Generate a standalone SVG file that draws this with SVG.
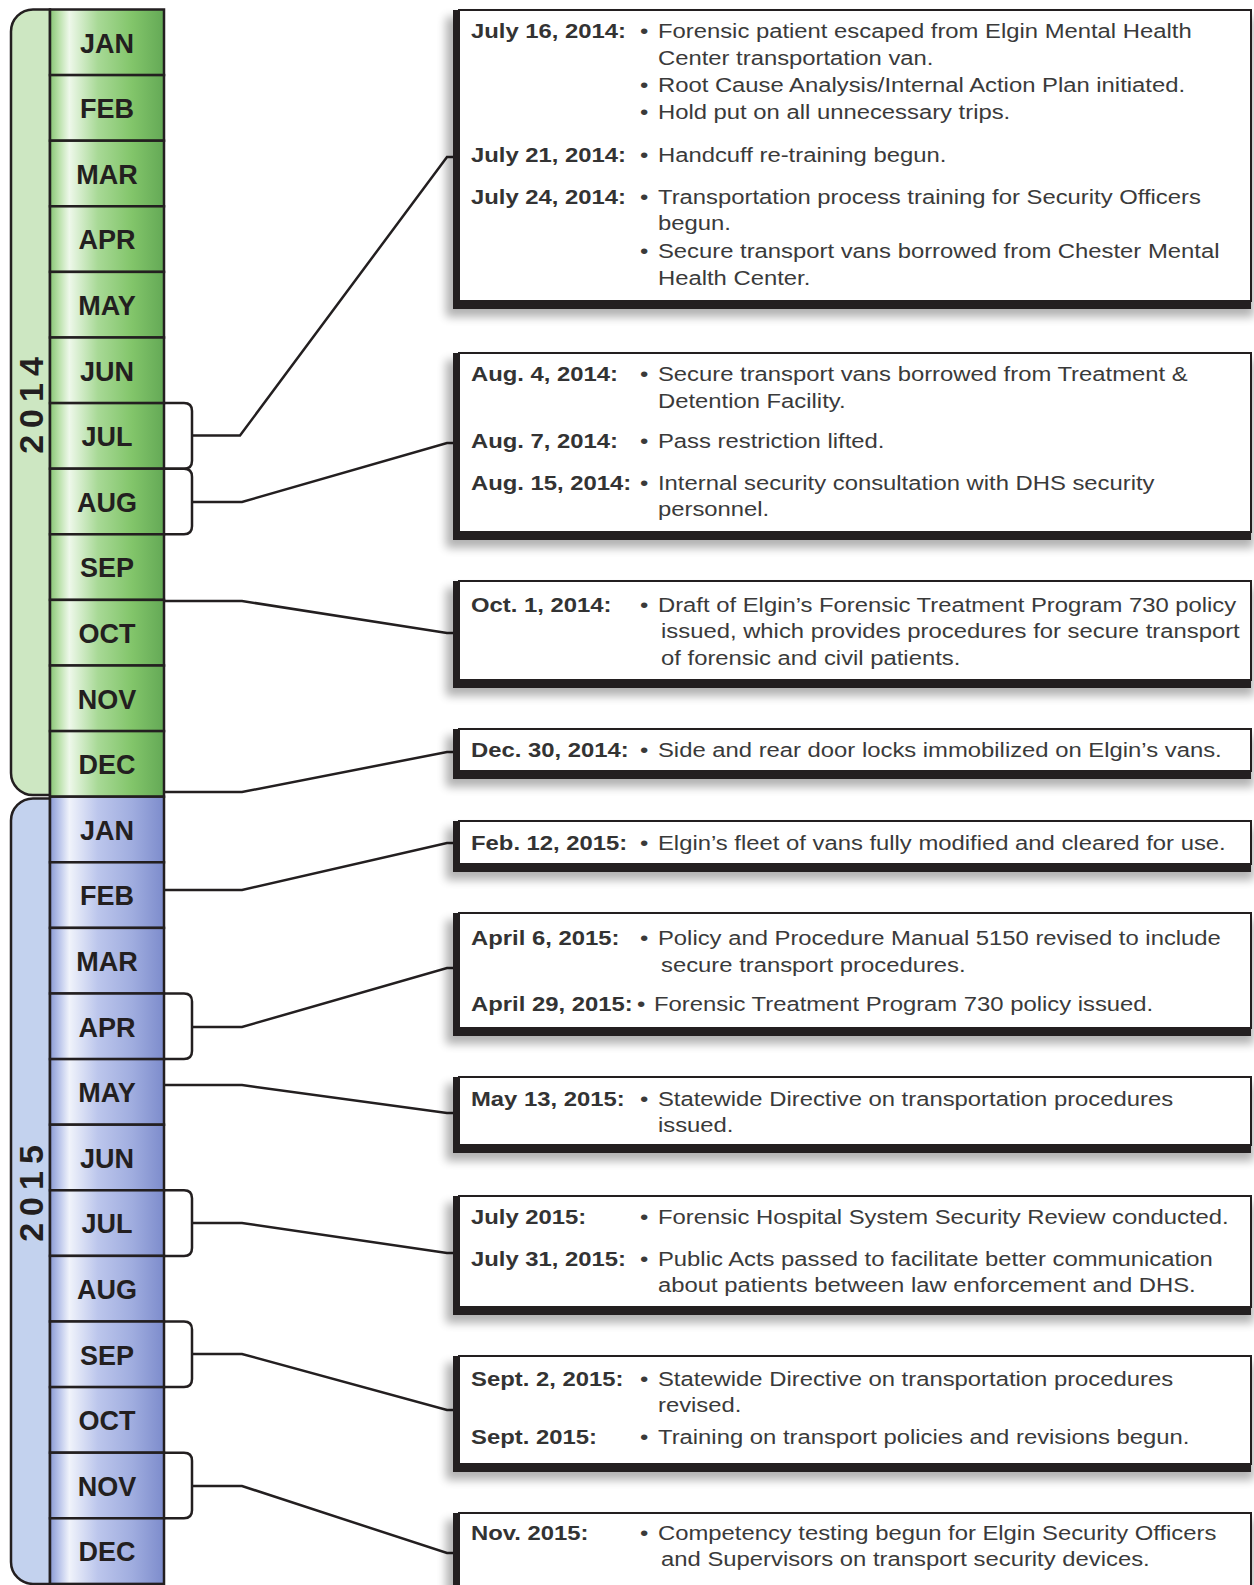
<svg xmlns="http://www.w3.org/2000/svg" width="1254" height="1585" viewBox="0 0 1254 1585">
<style>
.mo{font-family:"Liberation Sans",Arial,sans-serif;font-weight:bold;font-size:27px;fill:#231f20;text-anchor:middle}
.yr{font-family:"Liberation Sans",Arial,sans-serif;font-weight:bold;font-size:34px;fill:#231f20;text-anchor:middle;letter-spacing:7px}
.dt{font-family:"Liberation Sans",Arial,sans-serif;font-weight:bold;font-size:21px;fill:#333}
.tx{font-family:"Liberation Sans",Arial,sans-serif;font-size:21px;fill:#3a3a3a}
.cell{stroke:#231f20;stroke-width:2.5}
.g{fill:url(#gGreen)}
.b{fill:url(#gBlue)}
.cn{fill:none;stroke:#231f20;stroke-width:2.5;stroke-linejoin:miter}
.br{fill:none;stroke:#231f20;stroke-width:2.5}
.sh{fill:#000;opacity:0.3;filter:url(#blur)}
.dk{fill:#231f20}
.wb{fill:#fff;stroke:#231f20;stroke-width:2}
</style>
<defs>
<linearGradient id="gGreen" x1="0" y1="0" x2="1" y2="0">
<stop offset="0" stop-color="#88c575"/>
<stop offset="0.08" stop-color="#bae1aa"/>
<stop offset="0.17" stop-color="#eef8ea"/>
<stop offset="0.42" stop-color="#a8d996"/>
<stop offset="0.72" stop-color="#82c56a"/>
<stop offset="1" stop-color="#64a956"/>
</linearGradient>
<linearGradient id="gBlue" x1="0" y1="0" x2="1" y2="0">
<stop offset="0" stop-color="#8a9ad3"/>
<stop offset="0.08" stop-color="#b9c4ea"/>
<stop offset="0.17" stop-color="#f0f3fb"/>
<stop offset="0.42" stop-color="#bcc6ec"/>
<stop offset="0.72" stop-color="#a0addf"/>
<stop offset="1" stop-color="#7d8ccc"/>
</linearGradient>
<filter id="blur" x="-10%" y="-30%" width="120%" height="160%"><feGaussianBlur stdDeviation="5"/></filter>
</defs>
<rect width="1254" height="1585" fill="#fff"/>

<!-- year rails -->
<g id="year-2014">
<path d="M50,9.5 H33 A22,22 0 0 0 11,31.5 V773 A22,22 0 0 0 33,795 H50 Z" fill="#cde7c2" stroke="#231f20" stroke-width="2.5"/>
<text class="yr" transform="translate(43,402) rotate(-90)">2014</text>
</g>
<g id="year-2015">
<path d="M50,798.5 H33 A22,22 0 0 0 11,820.5 V1561.9 A22,22 0 0 0 33,1583.9 H50 Z" fill="#c3d2ee" stroke="#231f20" stroke-width="2.5"/>
<text class="yr" transform="translate(43,1190) rotate(-90)">2015</text>
</g>

<!-- months 2014 -->
<g id="m2014-01"><rect class="cell g" x="50" y="9.5" width="114" height="65.6"/><text class="mo" x="107" y="52.5">JAN</text></g>
<g id="m2014-02"><rect class="cell g" x="50" y="75.1" width="114" height="65.6"/><text class="mo" x="107" y="118.1">FEB</text></g>
<g id="m2014-03"><rect class="cell g" x="50" y="140.7" width="114" height="65.6"/><text class="mo" x="107" y="183.7">MAR</text></g>
<g id="m2014-04"><rect class="cell g" x="50" y="206.3" width="114" height="65.6"/><text class="mo" x="107" y="249.3">APR</text></g>
<g id="m2014-05"><rect class="cell g" x="50" y="271.9" width="114" height="65.6"/><text class="mo" x="107" y="314.9">MAY</text></g>
<g id="m2014-06"><rect class="cell g" x="50" y="337.5" width="114" height="65.6"/><text class="mo" x="107" y="380.5">JUN</text></g>
<g id="m2014-07"><rect class="cell g" x="50" y="403.1" width="114" height="65.6"/><text class="mo" x="107" y="446.1">JUL</text></g>
<g id="m2014-08"><rect class="cell g" x="50" y="468.7" width="114" height="65.6"/><text class="mo" x="107" y="511.7">AUG</text></g>
<g id="m2014-09"><rect class="cell g" x="50" y="534.3" width="114" height="65.6"/><text class="mo" x="107" y="577.3">SEP</text></g>
<g id="m2014-10"><rect class="cell g" x="50" y="599.9" width="114" height="65.6"/><text class="mo" x="107" y="642.9">OCT</text></g>
<g id="m2014-11"><rect class="cell g" x="50" y="665.5" width="114" height="65.6"/><text class="mo" x="107" y="708.5">NOV</text></g>
<g id="m2014-12"><rect class="cell g" x="50" y="731.1" width="114" height="65.6"/><text class="mo" x="107" y="774.1">DEC</text></g>
<!-- months 2015 -->
<g id="m2015-01"><rect class="cell b" x="50" y="796.7" width="114" height="65.6"/><text class="mo" x="107" y="839.7">JAN</text></g>
<g id="m2015-02"><rect class="cell b" x="50" y="862.3" width="114" height="65.6"/><text class="mo" x="107" y="905.3">FEB</text></g>
<g id="m2015-03"><rect class="cell b" x="50" y="927.9" width="114" height="65.6"/><text class="mo" x="107" y="970.9">MAR</text></g>
<g id="m2015-04"><rect class="cell b" x="50" y="993.5" width="114" height="65.6"/><text class="mo" x="107" y="1036.5">APR</text></g>
<g id="m2015-05"><rect class="cell b" x="50" y="1059.1" width="114" height="65.6"/><text class="mo" x="107" y="1102.1">MAY</text></g>
<g id="m2015-06"><rect class="cell b" x="50" y="1124.7" width="114" height="65.6"/><text class="mo" x="107" y="1167.7">JUN</text></g>
<g id="m2015-07"><rect class="cell b" x="50" y="1190.3" width="114" height="65.6"/><text class="mo" x="107" y="1233.3">JUL</text></g>
<g id="m2015-08"><rect class="cell b" x="50" y="1255.9" width="114" height="65.6"/><text class="mo" x="107" y="1298.9">AUG</text></g>
<g id="m2015-09"><rect class="cell b" x="50" y="1321.5" width="114" height="65.6"/><text class="mo" x="107" y="1364.5">SEP</text></g>
<g id="m2015-10"><rect class="cell b" x="50" y="1387.1" width="114" height="65.6"/><text class="mo" x="107" y="1430.1">OCT</text></g>
<g id="m2015-11"><rect class="cell b" x="50" y="1452.7" width="114" height="65.6"/><text class="mo" x="107" y="1495.7">NOV</text></g>
<g id="m2015-12"><rect class="cell b" x="50" y="1518.3" width="114" height="65.6"/><text class="mo" x="107" y="1561.3">DEC</text></g>

<!-- connectors -->
<g id="connectors">
<path class="br" d="M164,403.1 H184 Q192,403.1 192,411.1 V460.7 Q192,468.7 184,468.7 H164"/>
<polyline class="cn" points="192,435.5 240,435.5 447,157 456,157"/>
<path class="br" d="M164,468.7 H184 Q192,468.7 192,476.7 V526.3 Q192,534.3 184,534.3 H164"/>
<polyline class="cn" points="192,502 242,502 447,443 456,443"/>
<polyline class="cn" points="164,601 242,601 447,633 456,633"/>
<polyline class="cn" points="164,792 242,792 447,752 456,752"/>
<polyline class="cn" points="164,890 242,890 447,843 456,843"/>
<path class="br" d="M164,993.5 H184 Q192,993.5 192,1001.5 V1051.1 Q192,1059.1 184,1059.1 H164"/>
<polyline class="cn" points="192,1027 242,1027 447,968 456,968"/>
<polyline class="cn" points="164,1085 242,1085 447,1113 456,1113"/>
<path class="br" d="M164,1190.3 H184 Q192,1190.3 192,1198.3 V1247.9 Q192,1255.9 184,1255.9 H164"/>
<polyline class="cn" points="192,1223 242,1223 447,1253 456,1253"/>
<path class="br" d="M164,1321.5 H184 Q192,1321.5 192,1329.5 V1379.1 Q192,1387.1 184,1387.1 H164"/>
<polyline class="cn" points="192,1354 242,1354 447,1410 456,1410"/>
<path class="br" d="M164,1452.7 H184 Q192,1452.7 192,1460.7 V1510.3 Q192,1518.3 184,1518.3 H164"/>
<polyline class="cn" points="192,1486 242,1486 447,1553 456,1553"/>
</g>

<!-- event boxes -->
<g id="box-jul2014">
<rect class="sh" x="446" y="17" width="808" height="300"/>
<rect class="dk" x="453" y="10" width="798" height="299"/>
<rect class="wb" x="459" y="10" width="792" height="291"/>
<g transform="scale(1.135,1)">
<text class="dt" x="415" y="38">July 16, 2014:</text>
<text class="tx" x="563.9" y="38">•</text><text class="tx" x="579.7" y="38">Forensic patient escaped from Elgin Mental Health</text>
<text class="tx" x="579.7" y="65">Center transportation van.</text>
<text class="tx" x="563.9" y="92">•</text><text class="tx" x="579.7" y="92">Root Cause Analysis/Internal Action Plan initiated.</text>
<text class="tx" x="563.9" y="119">•</text><text class="tx" x="579.7" y="119">Hold put on all unnecessary trips.</text>
<text class="dt" x="415" y="162">July 21, 2014:</text>
<text class="tx" x="563.9" y="162">•</text><text class="tx" x="579.7" y="162">Handcuff re-training begun.</text>
<text class="dt" x="415" y="204">July 24, 2014:</text>
<text class="tx" x="563.9" y="204">•</text><text class="tx" x="579.7" y="204">Transportation process training for Security Officers</text>
<text class="tx" x="579.7" y="230">begun.</text>
<text class="tx" x="563.9" y="258">•</text><text class="tx" x="579.7" y="258">Secure transport vans borrowed from Chester Mental</text>
<text class="tx" x="579.7" y="285">Health Center.</text>
</g>
</g>

<g id="box-aug2014">
<rect class="sh" x="446" y="360" width="808" height="188"/>
<rect class="dk" x="453" y="353" width="798" height="187"/>
<rect class="wb" x="459" y="353" width="792" height="179"/>
<g transform="scale(1.135,1)">
<text class="dt" x="415" y="381">Aug. 4, 2014:</text>
<text class="tx" x="563.9" y="381">•</text><text class="tx" x="579.7" y="381">Secure transport vans borrowed from Treatment &amp;</text>
<text class="tx" x="579.7" y="408">Detention Facility.</text>
<text class="dt" x="415" y="448">Aug. 7, 2014:</text>
<text class="tx" x="563.9" y="448">•</text><text class="tx" x="579.7" y="448">Pass restriction lifted.</text>
<text class="dt" x="415" y="490">Aug. 15, 2014:</text>
<text class="tx" x="563.9" y="490">•</text><text class="tx" x="579.7" y="490">Internal security consultation with DHS security</text>
<text class="tx" x="579.7" y="516">personnel.</text>
</g>
</g>

<g id="box-oct2014">
<rect class="sh" x="446" y="588" width="808" height="108"/>
<rect class="dk" x="453" y="581" width="798" height="107"/>
<rect class="wb" x="459" y="581" width="792" height="99"/>
<g transform="scale(1.135,1)">
<text class="dt" x="415" y="612">Oct. 1, 2014:</text>
<text class="tx" x="563.9" y="612">•</text><text class="tx" x="579.7" y="612">Draft of Elgin’s Forensic Treatment Program 730 policy</text>
<text class="tx" x="582.4" y="638">issued, which provides procedures for secure transport</text>
<text class="tx" x="582.4" y="665">of forensic and civil patients.</text>
</g>
</g>

<g id="box-dec2014">
<rect class="sh" x="446" y="736" width="808" height="51"/>
<rect class="dk" x="453" y="729" width="798" height="50"/>
<rect class="wb" x="459" y="729" width="792" height="42"/>
<g transform="scale(1.135,1)">
<text class="dt" x="415" y="757">Dec. 30, 2014:</text>
<text class="tx" x="563.9" y="757">•</text><text class="tx" x="579.7" y="757">Side and rear door locks immobilized on Elgin’s vans.</text>
</g>
</g>

<g id="box-feb2015">
<rect class="sh" x="446" y="828" width="808" height="52"/>
<rect class="dk" x="453" y="821" width="798" height="51"/>
<rect class="wb" x="459" y="821" width="792" height="43"/>
<g transform="scale(1.135,1)">
<text class="dt" x="415" y="850">Feb. 12, 2015:</text>
<text class="tx" x="563.9" y="850">•</text><text class="tx" x="579.7" y="850">Elgin’s fleet of vans fully modified and cleared for use.</text>
</g>
</g>

<g id="box-apr2015">
<rect class="sh" x="446" y="920" width="808" height="124"/>
<rect class="dk" x="453" y="913" width="798" height="123"/>
<rect class="wb" x="459" y="913" width="792" height="115"/>
<g transform="scale(1.135,1)">
<text class="dt" x="415" y="945">April 6, 2015:</text>
<text class="tx" x="563.9" y="945">•</text><text class="tx" x="579.7" y="945">Policy and Procedure Manual 5150 revised to include</text>
<text class="tx" x="582.4" y="972">secure transport procedures.</text>
<text class="dt" x="415" y="1011">April 29, 2015:</text>
<text class="tx" x="561.2" y="1011">•</text><text class="tx" x="576.2" y="1011">Forensic Treatment Program 730 policy issued.</text>
</g>
</g>

<g id="box-may2015">
<rect class="sh" x="446" y="1084" width="808" height="77"/>
<rect class="dk" x="453" y="1077" width="798" height="76"/>
<rect class="wb" x="459" y="1077" width="792" height="68"/>
<g transform="scale(1.135,1)">
<text class="dt" x="415" y="1106">May 13, 2015:</text>
<text class="tx" x="563.9" y="1106">•</text><text class="tx" x="579.7" y="1106">Statewide Directive on transportation procedures</text>
<text class="tx" x="579.7" y="1132">issued.</text>
</g>
</g>

<g id="box-jul2015">
<rect class="sh" x="446" y="1203" width="808" height="120"/>
<rect class="dk" x="453" y="1196" width="798" height="119"/>
<rect class="wb" x="459" y="1196" width="792" height="111"/>
<g transform="scale(1.135,1)">
<text class="dt" x="415" y="1224">July 2015:</text>
<text class="tx" x="563.9" y="1224">•</text><text class="tx" x="579.7" y="1224">Forensic Hospital System Security Review conducted.</text>
<text class="dt" x="415" y="1266">July 31, 2015:</text>
<text class="tx" x="563.9" y="1266">•</text><text class="tx" x="579.7" y="1266">Public Acts passed to facilitate better communication</text>
<text class="tx" x="579.7" y="1292">about patients between law enforcement and DHS.</text>
</g>
</g>

<g id="box-sep2015">
<rect class="sh" x="446" y="1363" width="808" height="117"/>
<rect class="dk" x="453" y="1356" width="798" height="116"/>
<rect class="wb" x="459" y="1356" width="792" height="108"/>
<g transform="scale(1.135,1)">
<text class="dt" x="415" y="1386">Sept. 2, 2015:</text>
<text class="tx" x="563.9" y="1386">•</text><text class="tx" x="579.7" y="1386">Statewide Directive on transportation procedures</text>
<text class="tx" x="579.7" y="1412">revised.</text>
<text class="dt" x="415" y="1444">Sept. 2015:</text>
<text class="tx" x="563.9" y="1444">•</text><text class="tx" x="579.7" y="1444">Training on transport policies and revisions begun.</text>
</g>
</g>

<g id="box-nov2015">
<rect class="sh" x="446" y="1520" width="808" height="90"/>
<rect class="dk" x="453" y="1513" width="798" height="90"/>
<rect class="wb" x="459" y="1513" width="792" height="90"/>
<g transform="scale(1.135,1)">
<text class="dt" x="415" y="1540">Nov. 2015:</text>
<text class="tx" x="563.9" y="1540">•</text><text class="tx" x="579.7" y="1540">Competency testing begun for Elgin Security Officers</text>
<text class="tx" x="582.4" y="1566">and Supervisors on transport security devices.</text>
</g>
</g>
</svg>
